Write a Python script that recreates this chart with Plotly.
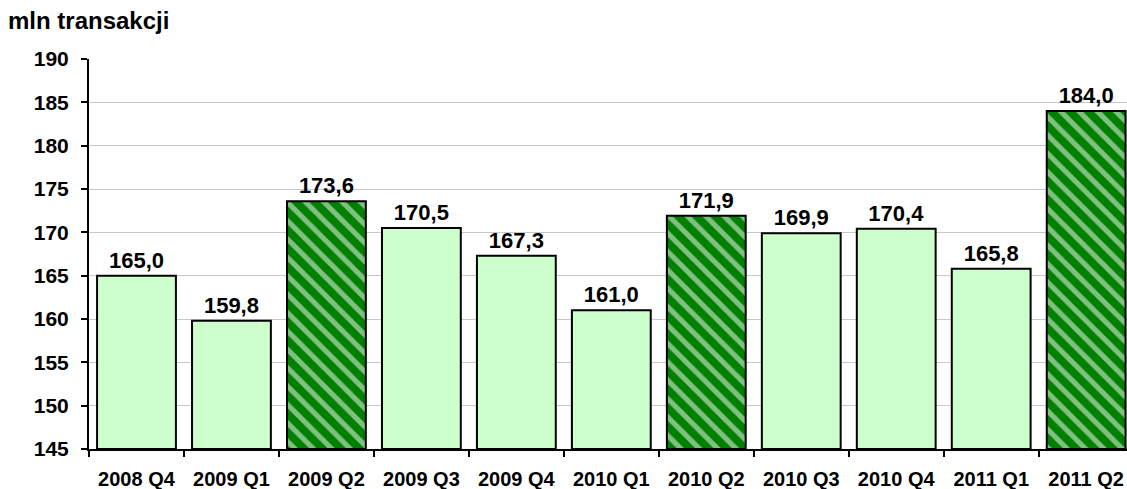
import plotly.graph_objects as go

categories = ["2008 Q4", "2009 Q1", "2009 Q2", "2009 Q3", "2009 Q4", "2010 Q1",
              "2010 Q2", "2010 Q3", "2010 Q4", "2011 Q1", "2011 Q2"]
values = [165.0, 159.8, 173.6, 170.5, 167.3, 161.0, 171.9, 169.9, 170.4, 165.8, 184.0]
hatched = [False, False, True, False, False, False, True, False, False, False, True]
y_ticks = [145, 150, 155, 160, 165, 170, 175, 180, 185, 190]

LIGHT = "#CCFFCC"
DARK = "#008000"
FONT = "Liberation Sans, Arial, sans-serif"

labels = [f"<b>{v:.1f}</b>".replace(".", ",") for v in values]
base = 145

fig = go.Figure()
fig.add_trace(go.Bar(
    x=categories,
    y=[v - base for v in values],
    base=base,
    text=labels,
    textposition="outside",
    cliponaxis=False,
    textfont=dict(family=FONT, size=22, color="black"),
    marker=dict(
        color=[DARK if h else LIGHT for h in hatched],
        line=dict(color="black", width=2),
        pattern=dict(
            shape=["\\" if h else "" for h in hatched],
            fgcolor=LIGHT,
            bgcolor=DARK,
            size=13,
            solidity=0.4,
            fillmode="overlay",
        ),
    ),
    hoverinfo="skip",
))

fig.update_layout(
    width=1127, height=489,
    margin=dict(l=89, r=0, t=59, b=40),
    paper_bgcolor="white", plot_bgcolor="white",
    bargap=0.17,
    showlegend=False,
    font=dict(family=FONT, color="black"),
    annotations=[dict(
        text="<b>mln transakcji</b>", xref="paper", yref="paper",
        x=-83/1038, y=1 + 38/390, xanchor="left", yanchor="middle",
        showarrow=False, font=dict(family=FONT, size=24, color="black"),
    )],
)
fig.update_xaxes(
    range=[-0.5, 10.43],
    showline=True, linecolor="black", linewidth=2,
    ticks="outside", tickson="boundaries", ticklen=6, tickwidth=2, tickcolor="black",
    tickfont=dict(family=FONT, size=20, color="black"),
    tickprefix="<b>", ticksuffix="</b>",
    ticklabelstandoff=11,
    showgrid=False,
)
fig.update_yaxes(
    range=[145, 190],
    tickvals=y_ticks, ticktext=[f"<b>{t}</b>" for t in y_ticks],
    showline=True, linecolor="black", linewidth=2,
    ticks="outside", ticklen=6, tickwidth=2, tickcolor="black",
    tickfont=dict(family=FONT, size=21, color="black"),
    ticklabelstandoff=8,
    showgrid=True, gridcolor="#C8C8C8", gridwidth=1,
    zeroline=False,
)

fig.write_html("out.html",
               config={"displayModeBar": False},
               post_script="document.body.style.margin='0';document.body.style.padding='0';")
